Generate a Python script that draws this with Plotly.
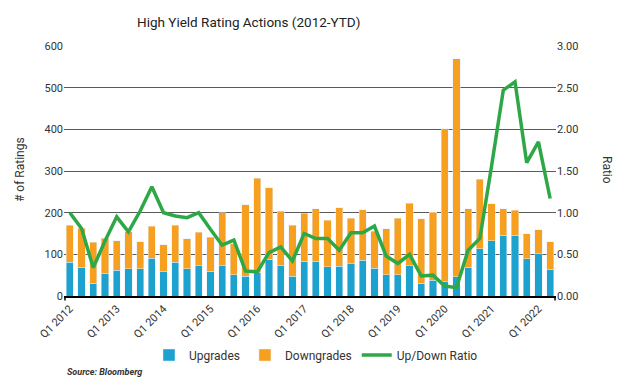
import plotly.graph_objects as go

years = list(range(2012, 2023))
quarters = [f"Q{q} {y}" for y in years for q in range(1, 5)][:42]

upgrades = [81, 69, 31, 55, 62, 66, 66, 91, 59, 81, 66, 73, 59, 73, 51, 48, 56, 88, 74, 47,
            83, 84, 70, 72, 77, 86, 67, 51, 51, 73, 31, 38, 35, 46, 69, 114, 133, 146, 146, 90,
            101, 64]
totals = [170, 163, 129, 139, 133, 154, 130, 167, 123, 170, 138, 153, 141, 200, 125, 219, 283, 260, 204, 170,
          199, 210, 182, 212, 187, 207, 155, 162, 187, 223, 186, 201, 401, 570, 210, 280, 221, 210, 206, 150,
          159, 130]
downgrades = [t - u for t, u in zip(totals, upgrades)]
ratio = [1.00, 0.81, 0.34, 0.66, 0.95, 0.77, 1.02, 1.31, 1.00, 0.96, 0.94, 1.00, 0.80, 0.61, 0.67, 0.30, 0.29, 0.52, 0.59, 0.42,
         0.75, 0.69, 0.69, 0.55, 0.76, 0.76, 0.84, 0.48, 0.39, 0.50, 0.24, 0.25, 0.12, 0.10, 0.55, 0.69, 1.56, 2.47, 2.57, 1.60,
         1.85, 1.17]
tick_labels = [f"Q1 {y}" for y in range(2012, 2023)]

BLUE = "#1DA1CF"
ORANGE = "#F7A01F"
GREEN = "#2EA846"
FONT = "Roboto"

W, H = 626, 382
L, R, T, B = 64, 70, 46, 86
pw, ph = W - L - R, H - T - B


def px_x(x):
    return (x - L) / pw


def px_y(y):
    return (H - B - y) / ph


fig = go.Figure()
fig.add_trace(go.Bar(x=quarters, y=upgrades, name="Upgrades", marker_color=BLUE))
fig.add_trace(go.Bar(x=quarters, y=downgrades, name="Downgrades", marker_color=ORANGE))
fig.add_trace(go.Scatter(x=quarters, y=ratio, name="Up/Down Ratio", yaxis="y2", mode="lines",
                         line=dict(color=GREEN, width=3.5)))

fig.update_layout(
    width=W, height=H,
    barmode="stack", bargap=0.38,
    paper_bgcolor="white", plot_bgcolor="white",
    margin=dict(l=L, r=R, t=T, b=B, autoexpand=False),
    font=dict(family=FONT, size=11, color="#333333"),
    showlegend=True,
    legend=dict(orientation="h", x=px_x(316), xanchor="center", y=px_y(355), yanchor="middle",
                traceorder="normal", font=dict(size=12, color="#333333"), itemwidth=30),
    xaxis=dict(type="category", tickmode="array", tickvals=tick_labels, ticktext=tick_labels,
               tickangle=-45, showgrid=False, showline=True, linecolor="black", linewidth=2,
               ticks="", tickfont=dict(size=11, color="#333333"), automargin=False),
    yaxis=dict(range=[0, 600], dtick=100, showgrid=True, gridcolor="#5a5a5a", gridwidth=1,
               zeroline=False, ticks="", tickfont=dict(size=11, color="#333333"), automargin=False),
    yaxis2=dict(range=[0, 3], dtick=0.5, overlaying="y", side="right", showgrid=True,
                gridcolor="#5a5a5a", gridwidth=1,
                tickformat=".2f", zeroline=False, ticks="", tickfont=dict(size=11, color="#333333"),
                automargin=False),
    shapes=[
        dict(type="line", xref="paper", yref="paper", x0=0.002, x1=0.002, y0=0, y1=-0.018,
             line=dict(color="black", width=1.5)),
        dict(type="line", xref="paper", yref="paper", x0=0.998, x1=0.998, y0=0, y1=-0.018,
             line=dict(color="black", width=1.5)),
    ],
    annotations=[
        dict(text="High Yield Rating Actions (2012-YTD)", x=px_x(248), y=px_y(22), xref="paper",
             yref="paper", xanchor="center", yanchor="middle",
             showarrow=False, font=dict(size=13.5, color="#222222", family=FONT)),
        dict(text="# of Ratings", x=px_x(20), y=px_y(170), xref="paper", yref="paper", textangle=-90,
             xanchor="center", yanchor="middle",
             showarrow=False, font=dict(size=12, color="#333333")),
        dict(text="Ratio", x=px_x(607), y=px_y(170), xref="paper", yref="paper", textangle=90,
             xanchor="center", yanchor="middle",
             showarrow=False, font=dict(size=12, color="#333333")),
        dict(text="<b><i>Source: Bloomberg</i></b>", x=px_x(65), y=px_y(372), xref="paper", yref="paper",
             showarrow=False, xanchor="left", yanchor="middle", font=dict(size=9, color="#333333")),
    ],
)

fig.write_html("out.html", config={"displayModeBar": False},
               post_script="document.body.style.margin='0';")
